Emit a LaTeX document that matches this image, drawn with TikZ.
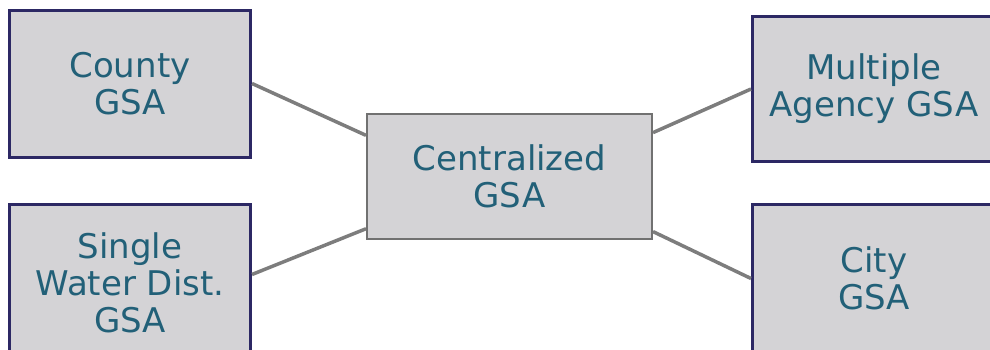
\documentclass[tikz,border=0pt]{standalone}
\usepackage{fontspec}
\setmainfont{DejaVu Sans}
\usepackage{tikz}
\definecolor{gsatext}{RGB}{34,96,120}
\definecolor{gsafill}{RGB}{212,211,214}
\definecolor{gsaborder}{RGB}{44,40,100}
\definecolor{gsaline}{RGB}{125,125,125}

\begin{document}
\begin{tikzpicture}[x=1pt,y=-1pt,
	gsa/.style={rectangle,draw=gsaborder,line width=3pt,fill=gsafill,text=gsatext,align=center,inner sep=0pt,font=\fontsize{34}{37}\selectfont},
	hub/.style={gsa,draw=gsaline!90!black,line width=2pt},
	link/.style={draw=gsaline,line width=3.5pt}]
	\useasboundingbox (0,0) rectangle (990,349);
	\clip (0,0) rectangle (990,349);

	\node [gsa,minimum width=241pt,minimum height=147pt] (county) at (130,83.5) {County\\GSA};
	\node [gsa,minimum width=241pt,minimum height=157pt] (single) at (130,283) {Single\\Water Dist.\\GSA};
	\node [hub,minimum width=285pt,minimum height=125pt] (central) at (509.5,176.5) {Centralized\\GSA};
	\node [gsa,minimum width=243pt,minimum height=145pt] (multiple) at (874,89) {Multiple\\Agency GSA};
	\node [gsa,minimum width=243pt,minimum height=148pt] (city) at (874,278.5) {City\\GSA};

	\draw [link] (county.east) -- (central.164);
	\draw [link] (single.4) -- (central.200);
	\draw [link] (multiple.west) -- (central.17);
	\draw [link] (city.west) -- (central.339);

\end{tikzpicture}
\end{document}
